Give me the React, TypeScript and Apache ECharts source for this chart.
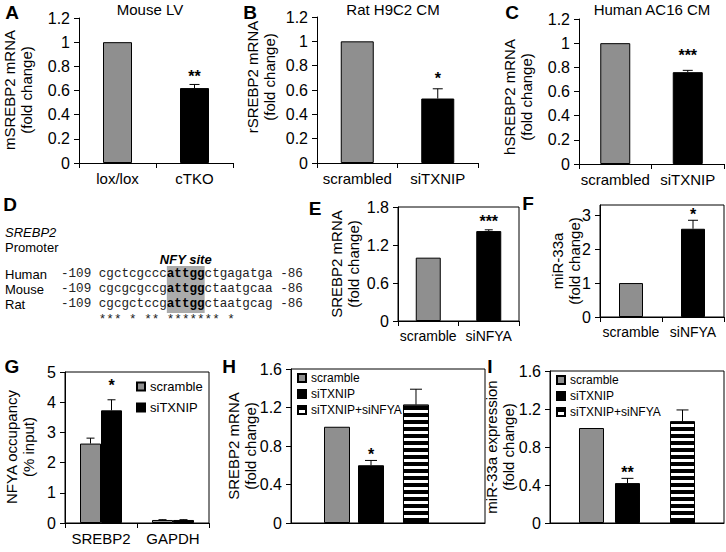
import React, { useEffect, useRef } from 'react';
import * as echarts from 'echarts';

const FONT = "'Liberation Sans', Arial, Helvetica, sans-serif";
const MONO = "'Liberation Mono', 'Courier New', monospace";
const GRAY = '#8f8f8f';
const BLACK = '#000000';

// ---- Panel A: Mouse LV ----
const aCategories = ['lox/lox', 'cTKO'];
const aValues = [1, 0.62];
const aErrors = [0, 0.03];
const aStars = ['', '**'];
// ---- Panel B: Rat H9C2 CM ----
const bCategories = ['scrambled', 'siTXNIP'];
const bValues = [1, 0.53];
const bErrors = [0, 0.08];
const bStars = ['', '*'];
// ---- Panel C: Human AC16 CM ----
const cCategories = ['scrambled', 'siTXNIP'];
const cValues = [1, 0.76];
const cErrors = [0, 0.015];
const cStars = ['', '***'];
// ---- Panel E ----
const eCategories = ['scramble', 'siNFYA'];
const eValues = [1, 1.42];
const eErrors = [0, 0.02];
const eStars = ['', '***'];
// ---- Panel F ----
const fCategories = ['scramble', 'siNFYA'];
const fValues = [1, 2.6];
const fErrors = [0, 0.25];
const fStars = ['', '*'];
const fTicks = [0, 1, 2, 3];
// ---- Panel G ----
const gCategories = ['SREBP2', 'GAPDH'];
const gScramble = [2.63, 0.1];
const gScrambleErr = [0.18, 0.01];
const gSiTXNIP = [3.73, 0.1];
const gSiTXNIPErr = [0.35, 0.01];
const gStarsScramble = ['', ''];
const gStarsSiTXNIP = ['*', ''];
// ---- Panels H and I ----
const hiSeriesNames = ['scramble', 'siTXNIP', 'siTXNIP+siNFYA'];
const hValues = [1, 0.6, 1.23];
const hErrors = [0, 0.05, 0.16];
const hStars = ['', '*', ''];
const iValues = [1, 0.42, 1.07];
const iErrors = [0, 0.05, 0.12];
const iStars = ['', '**', ''];
// ---- Panel D ----
const dSpecies = ['Human', 'Mouse', 'Rat'];
const dSequences = ['cgctcgcccattggctgagatga', 'cgcgcgccgattggctaatgcaa', 'cgcgctccgattggctaatgcag'];
const dStartPos = '-109';
const dEndPos = '-86';
const dConsensus = '*** * ** ******* *';
const dSiteStart = 9;
const dSiteLen = 5;

const axisColor = '#000';

function mkX(gi: number, data: string[], opts: any = {}) {
  return {
    type: 'category',
    gridIndex: gi,
    data,
    axisLine: { show: true, onZero: false, lineStyle: { color: axisColor, width: 1 } },
    axisTick: { show: opts.tick !== false, length: 5, lineStyle: { color: axisColor } },
    axisLabel: {
      show: opts.label !== false,
      interval: 0,
      fontSize: opts.fontSize || 15,
      color: '#000',
      fontFamily: FONT,
      margin: 8,
    },
    splitLine: { show: false },
  };
}

function mkY(gi: number, max: number, interval: number, custom?: number[]) {
  const y: any = {
    type: 'value',
    gridIndex: gi,
    min: 0,
    max,
    interval,
    axisLine: { show: true, lineStyle: { color: axisColor, width: 1 } },
    axisTick: { show: true, length: 5, lineStyle: { color: axisColor } },
    axisLabel: { fontSize: 16, color: '#000', fontFamily: FONT, margin: 9 },
    splitLine: { show: false },
  };
  if (custom) {
    y.axisTick.customValues = custom;
    y.axisLabel.customValues = custom;
  }
  return y;
}

function simpleBars(gi: number, values: number[], width: number) {
  return {
    type: 'bar',
    xAxisIndex: gi,
    yAxisIndex: gi,
    barWidth: width,
    silent: true,
    itemStyle: { borderColor: '#000', borderWidth: 1 },
    data: values.map((v, i) => ({ value: v, itemStyle: { color: i === 0 ? GRAY : BLACK } })),
  };
}

function errSeries(gi: number, catIdx: number[], values: number[], errors: number[], stars: string[], offset: number, cap: number, gap: number) {
  return {
    type: 'custom',
    xAxisIndex: gi,
    yAxisIndex: gi,
    silent: true,
    z: 5,
    clip: false,
    data: values.map((v, i) => [catIdx[i], v, errors[i]]),
    renderItem: (params: any, api: any) => {
      const i = params.dataIndex;
      const c = api.value(0);
      const v = api.value(1);
      const e = api.value(2);
      const p0 = api.coord([c, v]);
      const p1 = api.coord([c, v + e]);
      const x = p0[0] + offset;
      const children: any[] = [];
      if (e > 0) {
        children.push({ type: 'line', shape: { x1: x, y1: p0[1], x2: x, y2: p1[1] }, style: { stroke: '#000', lineWidth: 1 } });
        children.push({ type: 'line', shape: { x1: x - cap, y1: p1[1], x2: x + cap, y2: p1[1] }, style: { stroke: '#000', lineWidth: 1 } });
      }
      if (stars[i]) {
        children.push({
          type: 'text',
          x,
          y: p1[1] - gap,
          style: {
            text: stars[i],
            fontSize: 16,
            fontWeight: 'bold',
            fontFamily: FONT,
            fill: '#000',
            textAlign: 'center',
            textVerticalAlign: 'middle',
            align: 'center',
            verticalAlign: 'middle',
          },
        });
      }
      return { type: 'group', children };
    },
  };
}

// replicates the bar layout of ECharts for one category: centre of each column relative to the category centre
function clusterCenters(widths: number[], gapRatio: number) {
  let sum = 0;
  widths.forEach((w) => (sum += w * (1 + gapRatio)));
  sum -= widths[widths.length - 1] * gapRatio;
  let off = -sum / 2;
  const centers: number[] = [];
  widths.forEach((w) => {
    centers.push(off + w / 2);
    off += w * (1 + gapRatio);
  });
  return centers;
}

function txt(x: number, y: number, text: string, extra: any = {}, rotation = 0) {
  return {
    type: 'text',
    x,
    y,
    rotation,
    silent: true,
    style: {
      text,
      fontSize: 15,
      fontFamily: FONT,
      fill: '#000',
      textAlign: 'center',
      textVerticalAlign: 'middle',
      align: 'center',
      verticalAlign: 'middle',
      lineHeight: 17,
      ...extra,
    },
  };
}

function buildOption() {
  const grids = [
    { left: 79, top: 18, width: 154, height: 145, show: false }, // A
    { left: 317, top: 17, width: 161, height: 146, show: false }, // B
    { left: 579, top: 19, width: 145, height: 145, show: false }, // C
    { left: 398, top: 207, width: 121, height: 114, show: true }, // E
    { left: 600, top: 205, width: 124, height: 112, show: true }, // F
    { left: 65, top: 372, width: 144, height: 151, show: true }, // G
    { left: 291, top: 369, width: 194, height: 154, show: true }, // H
    { left: 550, top: 371, width: 174, height: 152, show: true }, // I
  ].map((g) => ({ ...g, borderColor: '#000', borderWidth: 1, containLabel: false }));

  const xAxis = [
    mkX(0, aCategories),
    mkX(1, bCategories),
    mkX(2, cCategories),
    mkX(3, eCategories, { fontSize: 14 }),
    mkX(4, fCategories, { fontSize: 14 }),
    mkX(5, gCategories),
    mkX(6, [''], { tick: false, label: false }),
    mkX(7, [''], { tick: false, label: false }),
  ];
  const yAxis = [
    mkY(0, 1.2, 0.2),
    mkY(1, 1.2, 0.2),
    mkY(2, 1.2, 0.2),
    mkY(3, 1.8, 0.6),
    mkY(4, 3.3, 1, fTicks),
    mkY(5, 5, 1),
    mkY(6, 1.6, 0.4),
    mkY(7, 1.6, 0.4),
  ];

  const stripe = {
    color: '#fff',
    borderColor: '#000',
    borderWidth: 1,
    decal: { symbol: 'rect', symbolSize: 1, color: '#000', dashArrayX: [1, 0], dashArrayY: [4, 3], rotation: 0 },
  };
  const hiStyles = [
    { color: GRAY, borderColor: '#000', borderWidth: 1 },
    { color: BLACK, borderColor: '#000', borderWidth: 1 },
    stripe,
  ];

  const series: any[] = [
    simpleBars(0, aValues, 29),
    errSeries(0, [0, 1], aValues, aErrors, aStars, 0, 5, 8),
    simpleBars(1, bValues, 33),
    errSeries(1, [0, 1], bValues, bErrors, bStars, 0, 5, 10),
    simpleBars(2, cValues, 30),
    errSeries(2, [0, 1], cValues, cErrors, cStars, 0, 5, 15),
    simpleBars(3, eValues, 25),
    errSeries(3, [0, 1], eValues, eErrors, eStars, 0, 4, 8),
    simpleBars(4, fValues, 24),
    errSeries(4, [0, 1], fValues, fErrors, fStars, 0, 5, 6),
    {
      type: 'bar', name: 'scramble', xAxisIndex: 5, yAxisIndex: 5, barWidth: 21, barGap: '0%', silent: true,
      itemStyle: { color: GRAY, borderColor: '#000', borderWidth: 1 }, data: gScramble,
    },
    {
      type: 'bar', name: 'siTXNIP', xAxisIndex: 5, yAxisIndex: 5, barWidth: 21, barGap: '0%', silent: true,
      itemStyle: { color: BLACK, borderColor: '#000', borderWidth: 1 }, data: gSiTXNIP,
    },
    errSeries(5, [0, 1], gScramble, gScrambleErr, gStarsScramble, -10.5, 4, 10),
    errSeries(5, [0, 1], gSiTXNIP, gSiTXNIPErr, gStarsSiTXNIP, 10.5, 4, 14),
  ];

  // H and I: three bars in one cluster, with wider space before the third bar
  const hiLayouts = [
    { gi: 6, vals: hValues, errs: hErrors, stars: hStars, w: 26, gapRatio: 8 / 26, spacer: 8.4, trail: 15 },
    { gi: 7, vals: iValues, errs: iErrors, stars: iStars, w: 25, gapRatio: 11 / 25, spacer: 13.2, trail: 0 },
  ];
  hiLayouts.forEach(({ gi, vals, errs, stars, w, gapRatio, spacer, trail }) => {
    const widths = [w, w, spacer, w];
    if (trail > 0) widths.push(trail);
    const centers = clusterCenters(widths, gapRatio);
    const barCenters = [centers[0], centers[1], centers[3]];
    const gap = gapRatio * 100 + '%';
    const spacerSeries = (bw: number) => ({
      type: 'bar', xAxisIndex: gi, yAxisIndex: gi, barWidth: bw, barGap: gap, silent: true,
      itemStyle: { opacity: 0 }, data: ['-'],
    });
    hiSeriesNames.forEach((name, k) => {
      if (k === 2) series.push(spacerSeries(spacer));
      series.push({
        type: 'bar', name, xAxisIndex: gi, yAxisIndex: gi, barWidth: w, barGap: gap, silent: true,
        itemStyle: hiStyles[k], data: [vals[k]],
      });
    });
    if (trail > 0) series.push(spacerSeries(trail));
    hiSeriesNames.forEach((name, k) => {
      series.push(errSeries(gi, [0], [vals[k]], [errs[k]], [stars[k]], barCenters[k], 6, 6));
    });
  });

  const legendBase = {
    orient: 'vertical',
    icon: 'rect',
    itemWidth: 8,
    itemHeight: 8,
    padding: 0,
    selectedMode: false,
    textStyle: { fontSize: 13, fontFamily: FONT, color: '#000' },
  };
  const smallLegendText = { fontSize: 12, fontFamily: FONT, color: '#000' };
  const legend = [
    { ...legendBase, left: 136, top: 380, itemGap: 8, data: ['scramble', 'siTXNIP'] },
    { ...legendBase, left: 297, top: 372, itemGap: 4, textStyle: smallLegendText, data: hiSeriesNames },
    { ...legendBase, left: 556, top: 374, itemGap: 4, textStyle: smallLegendText, data: hiSeriesNames },
  ];

  // ---- graphic texts ----
  const g: any[] = [];
  const letterStyle = { fontSize: 19, fontWeight: 'bold' };
  [['A', 12, 12], ['B', 250, 12], ['C', 512, 12], ['D', 10, 204], ['E', 315, 208], ['F', 528, 203], ['G', 12, 366], ['H', 229, 366], ['I', 490, 366]].forEach(
    ([t, x, y]: any) => g.push(txt(x, y, t, letterStyle))
  );
  g.push(txt(150, 9, 'Mouse LV'));
  g.push(txt(393, 9, 'Rat H9C2 CM'));
  g.push(txt(652, 9, 'Human AC16 CM'));
  const R = Math.PI / 2;
  g.push(txt(18, 90, 'mSREBP2 mRNA\n(fold change)', {}, R));
  g.push(txt(261, 77, 'rSREBP2 mRNA\n(fold change)', {}, R));
  g.push(txt(518, 97, 'hSREBP2 mRNA\n(fold change)', {}, R));
  g.push(txt(345, 264, 'SREBP2 mRNA\n(fold change)', {}, R));
  g.push(txt(566, 261, 'miR-33a\n(fold change)', {}, R));
  g.push(txt(20, 447, 'NFYA occupancy\n(% input)', {}, R));
  g.push(txt(242, 446, 'SREBP2 mRNA\n(fold change)', {}, R));
  g.push(txt(500, 447, 'miR-33a expression\n(fold change)', {}, R));

  // ---- Panel D ----
  const monoSize = 12.6;
  const cw = monoSize * 0.6;
  const lineX = 61;
  const rowY = [274, 289, 304];
  const siteX = lineX + (dStartPos.length + 1 + dSiteStart) * cw;
  g.push({
    type: 'rect',
    silent: true,
    shape: { x: siteX, y: 266, width: dSiteLen * cw, height: 47 },
    style: { fill: '#ababab' },
  });
  g.push(txt(5, 232, 'SREBP2', { fontSize: 13, fontStyle: 'italic', textAlign: 'left', align: 'left' }));
  g.push(txt(5, 247, 'Promoter', { fontSize: 13, textAlign: 'left', align: 'left' }));
  g.push(txt(siteX + (dSiteLen * cw) / 2, 259, 'NFY site', { fontSize: 13, fontStyle: 'italic', fontWeight: 'bold' }));
  dSpecies.forEach((sp, k) => {
    g.push(txt(5, rowY[k], sp, { fontSize: 13, textAlign: 'left', align: 'left' }));
    const s = dSequences[k];
    const pre = s.slice(0, dSiteStart);
    const site = s.slice(dSiteStart, dSiteStart + dSiteLen);
    const post = s.slice(dSiteStart + dSiteLen);
    g.push(
      txt(lineX, rowY[k], `${dStartPos} ${pre}{b|${site}}${post} ${dEndPos}`, {
        fontSize: monoSize,
        fontFamily: MONO,
        fill: '#222',
        textAlign: 'left',
        align: 'left',
        rich: { b: { fontWeight: 'bold', fontFamily: MONO, fontSize: monoSize, fill: '#000' } },
      })
    );
  });
  g.push(
    txt(lineX + (dStartPos.length + 1) * cw, 320, dConsensus, {
      fontSize: monoSize,
      fontFamily: MONO,
      fill: '#222',
      textAlign: 'left',
      align: 'left',
    })
  );

  return {
    animation: false,
    backgroundColor: '#fff',
    textStyle: { fontFamily: FONT },
    grid: grids,
    xAxis,
    yAxis,
    legend,
    series,
    graphic: g,
  };
}

export default function App() {
  const ref = useRef<HTMLDivElement>(null);
  useEffect(() => {
    if (!ref.current) return;
    const chart = echarts.init(ref.current, null, { renderer: 'svg' });
    chart.setOption(buildOption() as any);
    return () => chart.dispose();
  }, []);
  return <div ref={ref} style={{ position: 'fixed', left: 0, top: 0, width: 726, height: 552 }} />;
}
